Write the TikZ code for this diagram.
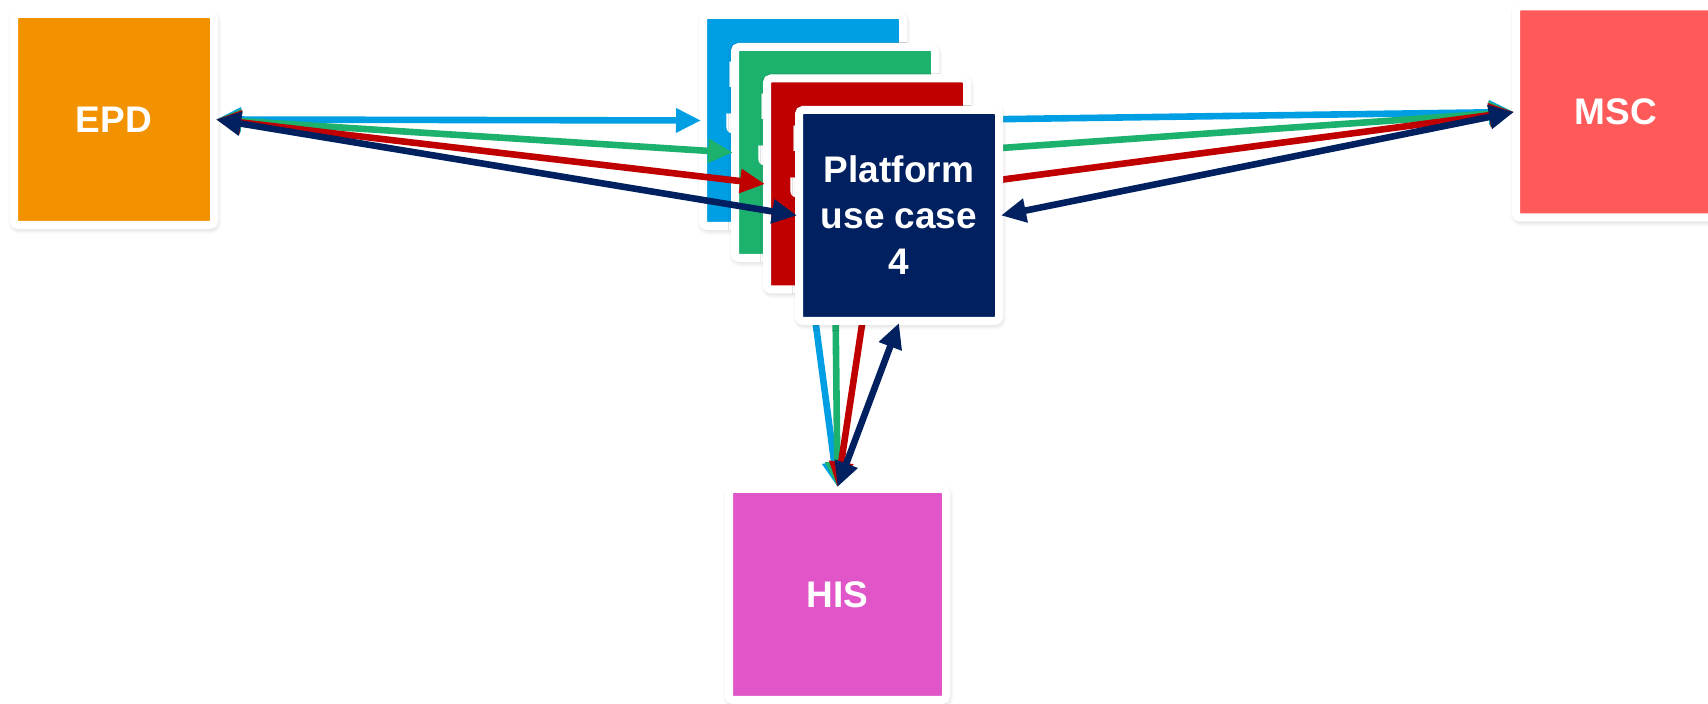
\documentclass[tikz,border=0pt]{standalone}
\usepackage{fontspec}
\setmainfont{Liberation Sans}
\usetikzlibrary{arrows.meta, positioning, shadows.blur}

\definecolor{epdorange}{HTML}{F39200}
\definecolor{mscred}{HTML}{FF5A5A}
\definecolor{hispink}{HTML}{E056C9}
\definecolor{ucblue}{HTML}{009FE3}
\definecolor{ucgreen}{HTML}{1DB16E}
\definecolor{ucred}{HTML}{C00000}
\definecolor{ucnavy}{HTML}{002060}

\begin{document}
\begin{tikzpicture}[
  x=0.5pt, y=-0.5pt,
  card/.style={draw=white, fill=#1, line width=4pt, rounded corners=2pt, outer sep=1pt,
    minimum width=100pt, minimum height=105.5pt, align=center, text=white,
    font=\fontsize{18.5}{23}\selectfont\bfseries,
    blur shadow={shadow xshift=0.4pt, shadow yshift=-1.2pt, shadow blur radius=3.5pt,
      shadow blur steps=8, shadow opacity=28}},
  link/.style={{Triangle[length=12.5pt,width=11.5pt]}-{Triangle[length=12.5pt,width=11.5pt]}, line width=3.3pt, draw=#1}
]
\useasboundingbox (0,0) rectangle (1708,704);

\node[card=epdorange] (epd) at (114,119.5) {EPD};
\node[card=mscred] (msc) at (1616,112) {MSC};
\node[card=hispink, minimum width=108.5pt] (his) at (837.5,594.5) {HIS};

% stacked use cases, each one with its links
\node[card=ucblue] (uc1) at (803,120.5) {Platform\\use case\\1};
\draw[link=ucblue] (epd.east) -- (uc1.west);
\draw[link=ucblue] (uc1.east) -- (msc.west);
\draw[link=ucblue] (uc1.south) -- (his.north);

\node[card=ucgreen] (uc2) at (835,152.5) {Platform\\use case\\2};
\draw[link=ucgreen] (epd.east) -- (uc2.west);
\draw[link=ucgreen] (uc2.east) -- (msc.west);
\draw[link=ucgreen] (uc2.south) -- (his.north);

\node[card=ucred] (uc3) at (867,184) {Platform\\use case\\3};
\draw[link=ucred] (epd.east) -- (uc3.west);
\draw[link=ucred] (uc3.east) -- (msc.west);
\draw[link=ucred] (uc3.south) -- (his.north);

\node[card=ucnavy] (uc4) at (899,215.5) {Platform\\use case\\4};
\draw[link=ucnavy] (epd.east) -- (uc4.west);
\draw[link=ucnavy] (uc4.east) -- (msc.west);
\draw[link=ucnavy] (uc4.south) -- (his.north);
\end{tikzpicture}
\end{document}
